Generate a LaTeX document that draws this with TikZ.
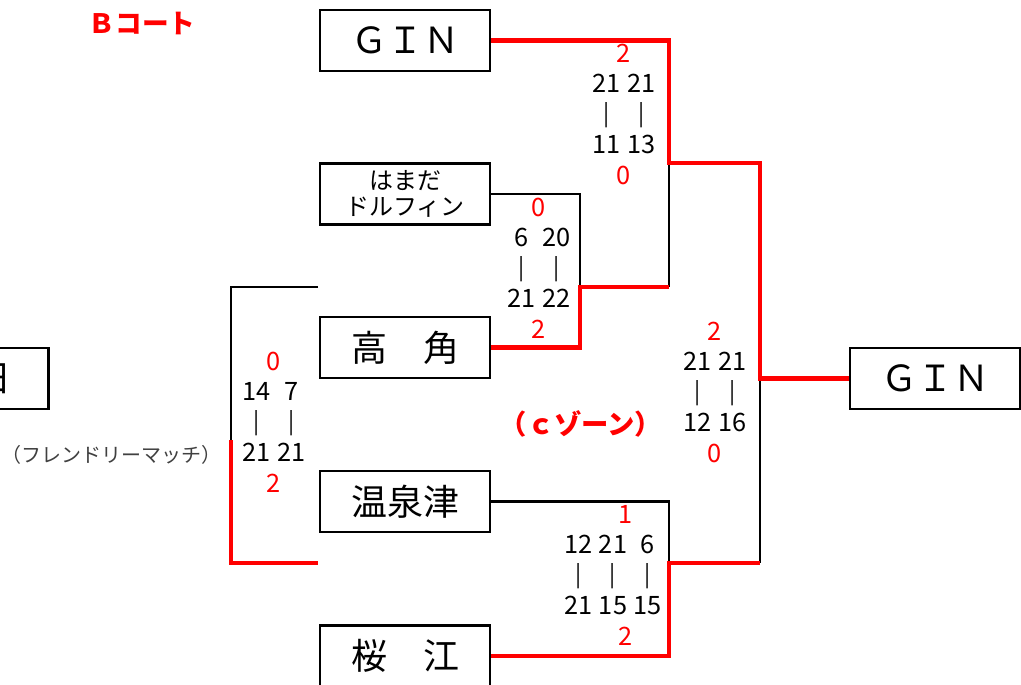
\documentclass[tikz,border=0pt]{standalone}
\usepackage{fontspec}
\setmainfont{Noto Sans CJK JP}
\usetikzlibrary{positioning, calc}
\definecolor{courtRed}{HTML}{FF0000}
\definecolor{textGray}{HTML}{404040}
\newcommand{\vs}{{\fontsize{17}{0}\selectfont\raisebox{1pt}{|}}}

\begin{document}
\begin{tikzpicture}[x=0.75pt,y=-0.75pt,
    team/.style={rectangle,draw=black,line width=2.2pt,fill=white,minimum width=127.5pt,
                 minimum height=45.75pt,inner sep=0pt,font=\fontsize{27}{30}\selectfont},
    teamsmall/.style={team,align=center,font=\fontsize{18}{19}\selectfont},
    score/.style={inner sep=0pt,font=\fontsize{19}{22.9}\selectfont},
    lose/.style={line width=2.2pt,black},
    win/.style={line width=3.6pt,courtRed}
]
    \useasboundingbox (0,0) rectangle (1021,685);
    \clip (0,0) rectangle (1021,685);

    % Titles
    \node[font=\fontsize{20}{22}\selectfont\bfseries,text=courtRed] (court) at (142,24) {Ｂコート};
    \node[font=\fontsize{20.5}{22}\selectfont\bfseries,text=courtRed] (zone) at (581,424) {（ｃゾーン）};
    \node[font=\fontsize{15}{17}\selectfont,text=textGray] (friendly) at (112,455) {（フレンドリーマッチ）};

    % Teams
    \node[team] (gin) at (405,40.5) {ＧＩＮ};
    \node[teamsmall] (hamada) at (405,194) {はまだ\\ドルフィン};
    \node[team] (takasumi) at (405,347.5) {高　角};
    \node[team] (yunotsu) at (405,501.5) {温泉津};
    \node[team] (sakurae) at (405,656) {桜　江};
    \node[team,anchor=east,text width=120pt,align=right,inner xsep=28pt] (other) at (50,378.5) {日};
    \node[team] (winner) at (935,378.5) {ＧＩＮ};

    % Junctions
    \coordinate (j1) at (669,163);
    \coordinate (j2) at (580,287);
    \coordinate (j3) at (760,378.5);
    \coordinate (j4) at (669,563);
    \coordinate (f1) at (318,287);
    \coordinate (f2) at (318,563);
    \coordinate (f3) at (231,440);

    % Losers
    \draw[lose] (hamada.east) -| (j2);
    \draw[lose] (j1) -- (j1 |- j2);
    \draw[lose] (yunotsu.east) -| (j4);
    \draw[lose] (j3) -- (j3 |- j4);
    \draw[lose] (f1) -| (f3);

    % Winners
    \draw[win] (takasumi.east) -| (j2) -- (j1 |- j2);
    \draw[win] (gin.east) -| (j1) -| (j3) -- (winner.west);
    \draw[win] (sakurae.east) -| (j4) -- (j3 |- j4);
    \draw[win] (f3) |- (f2);

    % Scores
    \node[score] (s1) at (624,117) {\begin{tabular}{@{}c@{\hspace{5pt}}c@{}}
        \multicolumn{2}{c}{\textcolor{courtRed}{2}}\\
        21&21\\ \vs&\vs\\ 11&13\\
        \multicolumn{2}{c}{\textcolor{courtRed}{0}}
    \end{tabular}};
    \node[score] (s2) at (539,271) {\begin{tabular}{@{}c@{\hspace{5pt}}c@{}}
        \multicolumn{2}{c}{\textcolor{courtRed}{0}}\\
        6&20\\ \vs&\vs\\ 21&22\\
        \multicolumn{2}{c}{\textcolor{courtRed}{2}}
    \end{tabular}};
    \node[score] (s3) at (715,395) {\begin{tabular}{@{}c@{\hspace{5pt}}c@{}}
        \multicolumn{2}{c}{\textcolor{courtRed}{2}}\\
        21&21\\ \vs&\vs\\ 12&16\\
        \multicolumn{2}{c}{\textcolor{courtRed}{0}}
    \end{tabular}};
    \node[score] (s4) at (613,578) {\begin{tabular}{@{}c@{\hspace{5pt}}c@{\hspace{5pt}}c@{}}
        \multicolumn{3}{c}{\quad\textcolor{courtRed}{1}}\\
        12&21&6\\ \vs&\vs&\vs\\ 21&15&15\\
        \multicolumn{3}{c}{\quad\textcolor{courtRed}{2}}
    \end{tabular}};
    \node[score] (s5) at (274,425) {\begin{tabular}{@{}c@{\hspace{5pt}}c@{}}
        \multicolumn{2}{c}{\textcolor{courtRed}{0}}\\
        14&7\\ \vs&\vs\\ 21&21\\
        \multicolumn{2}{c}{\textcolor{courtRed}{2}}
    \end{tabular}};
\end{tikzpicture}
\end{document}
